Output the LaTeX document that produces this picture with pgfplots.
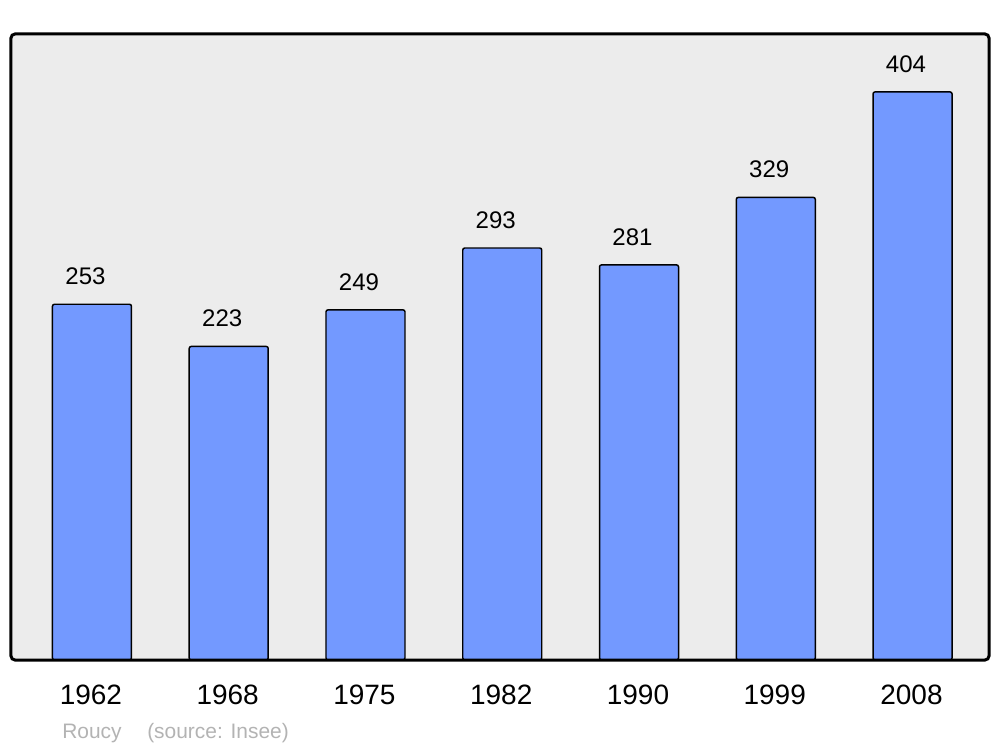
\documentclass[border=0pt]{standalone}
\usepackage{pgfplots}
\pgfplotsset{compat=1.18}
\usepackage{fontspec}
\setmainfont{Liberation Sans}
\definecolor{barblue}{HTML}{7399FF}
\definecolor{bggray}{HTML}{ECECEC}
\definecolor{srcgray}{HTML}{B3B3B3}
\begin{document}
\begin{tikzpicture}[x=0.75pt,y=0.75pt]
\useasboundingbox (0,0) rectangle (1000,747);
\begin{axis}[
  at={(11*0.75pt,87*0.75pt)}, anchor=south west,
  scale only axis, width=733.5pt, height=469.5pt,
  xmin=-0.592, xmax=6.559, ymin=0, ymax=445.2,
  axis line style={draw=none},
  axis background/.style={fill=bggray},
  ytick=\empty,
  xtick=data,
  xticklabels={1962,1968,1975,1982,1990,1999,2008},
  major tick length=0pt,
  xticklabel style={font=\fontsize{21pt}{25pt}\selectfont, anchor=center, yshift=-26.25pt, xshift=-0.8pt},
  /pgf/number format/assume math mode=true,
  ybar, bar width=59.25pt,
  nodes near coords,
  every node near coord/.append style={font=\fontsize{18pt}{21pt}\selectfont, anchor=center, yshift=21pt, xshift=-4.9pt},
  after end axis/.code={
    \draw[line width=2.25pt, rounded corners=3pt] (rel axis cs:0,0) rectangle (rel axis cs:1,1);
  },
]
\addplot[fill=barblue, draw=black, line width=1.1pt, rounded corners=1.5pt] coordinates {
(0,253) (1,223) (2,249) (3,293) (4,281) (5,329) (6,404)};
\end{axis}
\node[anchor=base west, text=srcgray, font=\fontsize{15.7pt}{19pt}\selectfont, inner sep=0pt] at (62,9) {Roucy};
\node[anchor=base west, text=srcgray, font=\fontsize{15.7pt}{19pt}\selectfont, inner sep=0pt] at (147,9) {(source: Insee)};
\end{tikzpicture}
\end{document}
